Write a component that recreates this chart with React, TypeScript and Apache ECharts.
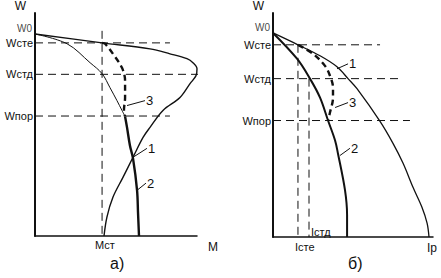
import React, { useEffect, useRef } from "react";
import * as echarts from "echarts";

// ---- Panel a) : W versus M ----
const leftW0 = 90.6;
const leftLevelValues = [53.8, 72.5, 86.6];
const leftLevelNames = ["Wпор", "Wстд", "Wсте"];
const mstValue = 41.4;
const mstTop = 92;
const leftHorizEnds = [83.3, 105, 83.3]; // Wпор, Wстд, Wсте

const leftCurve1: number[][] = [
  [0, 90.6], [41.4, 86.6], [71, 83.9], [83.3, 81.7], [93.8, 79.5], [97.5, 77.7],
  [100, 75], [99.4, 71.9], [95.7, 68.3], [89.5, 62.1], [79, 56.3], [71, 48.7],
  [66.7, 44.2], [60.5, 35.3], [54.3, 26.3], [48.1, 17.4], [44.4, 8.5], [42.6, 0],
];
const leftCurve2Thin: number[][] = [
  [0, 90.6], [19.8, 86.2], [34, 77.7], [41.4, 72.8], [46.3, 66.5], [50.6, 60.7],
  [53.7, 56.3], [55.6, 53.6],
];
const leftCurve2Bold: number[][] = [
  [55.6, 53.6], [56.8, 48.7], [58.6, 40.6], [60.5, 34.8], [63, 20.5], [63.6, 10.3], [64.2, 0],
];
const leftCurve3: number[][] = [
  [41.4, 86.6], [43.2, 86.2], [48.1, 81.7], [53.7, 75.4], [55.6, 69.6], [55.6, 62.1],
  [54.9, 56.3], [55.6, 53.6],
];
const leftLeaders: { name: string; from: number[]; to: number[] }[] = [
  { name: "3", from: [56.8, 58.5], to: [67.9, 60.7] },
  { name: "1", from: [60.5, 35.3], to: [69.1, 39.3] },
  { name: "2", from: [63, 20.5], to: [68.5, 23.7] },
];

// ---- Panel б) : W versus I ----
const rightW0 = 91.1;
const rightLevelValues = [52, 70.7, 85.8];
const rightLevelNames = ["Wпор", "Wстд", "Wсте"];
const icteValue = 15.6;
const istdValue = 22.5;
const rightHorizEnds = [85.6, 79.4, 66.9]; // Wпор, Wстд, Wсте

const rightCurve1: number[][] = [
  [0, 91.1], [15.6, 85.8], [29.4, 80.9], [40, 76], [46.9, 70.7], [52.5, 66.2],
  [66.9, 51.6], [75, 41.8], [81.3, 32.9], [87.5, 22.2], [93.1, 13.3], [96.3, 6.2], [97.5, 0],
];
const rightCurve2: number[][] = [
  [0, 91.1], [15, 79.6], [23.1, 70.7], [29.4, 62.2], [34.4, 52], [38.8, 43.1],
  [40.6, 37.3], [45, 20.9], [46.3, 9.8], [46.3, 0],
];
const rightCurve3: number[][] = [
  [15.6, 85.8], [25, 81.8], [32.5, 76.4], [35.6, 72], [37.5, 66.7], [37.5, 62.2],
  [35.6, 55.6], [34.4, 52],
];
const rightLeaders: { name: string; from: number[]; to: number[] }[] = [
  { name: "1", from: [40, 75.1], to: [46.9, 77.3] },
  { name: "3", from: [38.8, 57.8], to: [46.9, 60] },
  { name: "2", from: [41.9, 36.4], to: [48.1, 39.6] },
];

const FONT = "'Liberation Sans', Arial, sans-serif";
const INK = "#111";

function nearestName(v: number, values: number[], names: string[]) {
  let best = 0;
  for (let i = 1; i < values.length; i++) {
    if (Math.abs(values[i] - v) < Math.abs(values[best] - v)) best = i;
  }
  return names[best];
}

function lineSeries(idx: number, data: any[], width: number, type: any, smooth: number | boolean, z = 3): any {
  return {
    type: "line",
    xAxisIndex: idx,
    yAxisIndex: idx,
    data,
    smooth,
    symbol: "none",
    clip: false,
    silent: true,
    z,
    lineStyle: { color: INK, width, type, cap: "butt" },
  };
}

function leaderSeries(idx: number, l: { name: string; from: number[]; to: number[] }): any {
  return {
    type: "line",
    xAxisIndex: idx,
    yAxisIndex: idx,
    symbol: "circle",
    symbolSize: 0,
    showSymbol: true,
    clip: false,
    silent: true,
    lineStyle: { color: INK, width: 1 },
    data: [
      { value: l.from },
      {
        value: l.to,
        label: {
          show: true,
          position: "right",
          distance: 1,
          formatter: l.name,
          color: INK,
          fontSize: 13,
          fontFamily: FONT,
        },
      },
    ],
  };
}

function w0Series(idx: number, w0: number): any {
  return {
    type: "scatter",
    xAxisIndex: idx,
    yAxisIndex: idx,
    symbolSize: 0,
    silent: true,
    clip: false,
    data: [[0, w0]],
    label: {
      show: true,
      position: "left",
      distance: 3,
      offset: [0, -5],
      formatter: "W0",
      color: INK,
      fontSize: 10,
      lineHeight: 9,
      fontFamily: FONT,
    },
  };
}

const App: React.FC = () => {
  const ref = useRef<HTMLDivElement>(null);
  useEffect(() => {
    if (!ref.current) return;
    const chart = echarts.init(ref.current, undefined, { renderer: "svg" });

    const dash = [8, 5];
    const series: any[] = [];

    // Panel a)
    leftLevelValues.forEach((y, i) => {
      series.push(lineSeries(0, [[0, y], [leftHorizEnds[i], y]], 1, dash, false, 2));
    });
    series.push(lineSeries(0, [[mstValue, mstTop], [mstValue, 0]], 1, dash, false, 2));
    series.push(lineSeries(0, leftCurve1, 1.4, "solid", 0.35));
    series.push(lineSeries(0, leftCurve2Thin, 1, "solid", 0.35));
    series.push(lineSeries(0, leftCurve2Bold, 2.4, "solid", 0.35));
    series.push(lineSeries(0, leftCurve3, 2.4, [6, 4], 0.35));
    leftLeaders.forEach((l) => series.push(leaderSeries(0, l)));
    series.push(w0Series(0, leftW0));

    // Panel б)
    rightLevelValues.forEach((y, i) => {
      series.push(lineSeries(1, [[0, y], [rightHorizEnds[i], y]], 1, dash, false, 2));
    });
    series.push(lineSeries(1, [[icteValue, rightLevelValues[2]], [icteValue, 0]], 1, dash, false, 2));
    series.push({
      ...lineSeries(1, [
        [istdValue, rightLevelValues[1]],
        {
          value: [istdValue, 0],
          label: {
            show: true,
            position: [2, -11],
            formatter: "Iстд",
            color: INK,
            fontSize: 11,
            fontFamily: FONT,
          },
        },
      ], 1, dash, false, 2),
      symbol: "circle",
      symbolSize: 0,
      showSymbol: true,
    });
    series.push(lineSeries(1, rightCurve1, 1.3, "solid", 0.35));
    series.push(lineSeries(1, rightCurve2, 2, "solid", 0.35));
    series.push(lineSeries(1, rightCurve3, 2.4, [6, 4], 0.35));
    rightLeaders.forEach((l) => series.push(leaderSeries(1, l)));
    series.push(w0Series(1, rightW0));

    const yAxisBase = (idx: number, values: number[], names: string[]): any => ({
      gridIndex: idx,
      type: "value",
      min: 0,
      max: 100,
      splitLine: { show: false },
      axisTick: { show: false },
      axisLine: { show: true, onZero: false, lineStyle: { color: INK, width: 2 } },
      axisLabel: {
        customValues: values,
        formatter: (v: number) => nearestName(v, values, names),
        margin: 2,
        color: INK,
        fontSize: 11,
        fontFamily: FONT,
        verticalAlign: "middle",
        lineHeight: 9,
        hideOverlap: false,
      },
      name: "W",
      nameLocation: "end",
      nameGap: 1,
      nameTextStyle: {
        color: INK,
        fontSize: 12,
        fontFamily: FONT,
        align: "right",
        verticalAlign: "bottom",
        padding: [0, 9, 0, 0],
      },
    });

    chart.setOption({
      animation: false,
      backgroundColor: "#fff",
      title: [
        { text: "а)", left: 110, top: 255, padding: 0, textStyle: { fontSize: 16, fontWeight: "normal", color: INK, fontFamily: FONT } },
        { text: "б)", left: 348, top: 255, padding: 0, textStyle: { fontSize: 16, fontWeight: "normal", color: INK, fontFamily: FONT } },
      ],
      grid: [
        { left: 35, top: 12, width: 162, height: 224 },
        { left: 273, top: 12, width: 160, height: 225 },
      ],
      xAxis: [
        {
          gridIndex: 0,
          type: "value",
          min: 0,
          max: 100,
          splitLine: { show: false },
          axisTick: { show: false },
          axisLine: { show: true, onZero: false, lineStyle: { color: INK, width: 1.5 } },
          axisLabel: {
            customValues: [mstValue],
            formatter: () => "Mст",
            margin: 3,
            color: INK,
            fontSize: 11,
            fontFamily: FONT,
            align: "left",
            padding: [0, 0, 0, -7],
          },
          name: "M",
          nameLocation: "end",
          nameGap: 11,
          nameTextStyle: { color: INK, fontSize: 12, fontFamily: FONT, verticalAlign: "top", padding: [5, 0, 0, 0] },
        },
        {
          gridIndex: 1,
          type: "value",
          min: 0,
          max: 100,
          splitLine: { show: false },
          axisTick: { show: false },
          axisLine: { show: true, onZero: false, lineStyle: { color: INK, width: 1.5 } },
          axisLabel: {
            customValues: [icteValue],
            formatter: () => "Iсте",
            margin: 4,
            color: INK,
            fontSize: 11,
            fontFamily: FONT,
            align: "left",
            padding: [0, 0, 0, -3],
          },
          name: "Iр",
          nameLocation: "end",
          nameGap: -6,
          nameTextStyle: { color: INK, fontSize: 12, fontFamily: FONT, verticalAlign: "top", padding: [5, 0, 0, 0] },
        },
      ],
      yAxis: [
        yAxisBase(0, leftLevelValues, leftLevelNames),
        yAxisBase(1, rightLevelValues, rightLevelNames),
      ],
      series,
    });
    return () => chart.dispose();
  }, []);
  return (
    <div
      ref={ref}
      style={{ position: "fixed", left: 0, top: 0, width: 441, height: 278, background: "#fff" }}
    />
  );
};

export default App;
